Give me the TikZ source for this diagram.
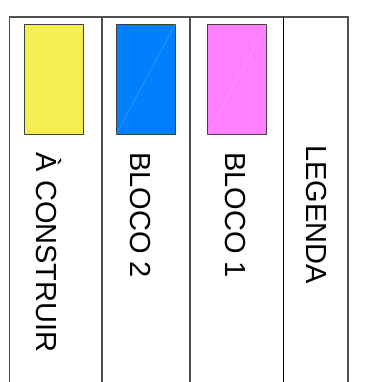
\documentclass[tikz,border=0pt]{standalone}
\usepackage{fontspec}
\setmainfont{Liberation Sans}
\definecolor{amarelo}{HTML}{F5EE50}
\definecolor{azul}{HTML}{0080FF}
\definecolor{rosa}{HTML}{FF80FF}
\definecolor{linha}{HTML}{505050}
\tikzset{
  cor/.style={draw=linha!80!black,line width=1pt,minimum width=59pt,minimum height=110.5pt,inner sep=0pt,anchor=north west},
  rotulo/.style={rotate=-90,anchor=base west,inner sep=0pt,font=\fontsize{29}{31}\selectfont},
}
\begin{document}
\begin{tikzpicture}[x=1pt,y=-1pt]
\useasboundingbox (0,0) rectangle (382,382);
% grelha da legenda
\draw[linha,line width=1.1pt] (9.5,382) -- (9.5,17) -- (348,17) -- (348,382);
\draw[linha,line width=1.1pt] (102,17) -- (102,382);
\draw[linha,line width=1.1pt] (190,17) -- (190,382);
\draw[black,line width=1pt] (283,17) -- (283,382);
% amostras de cor
\node[cor,fill=amarelo] (a) at (24,24){};
\node[cor,fill=azul] (b2) at (115.5,24){};
\node[cor,fill=rosa] (b1) at (207,24){};
\foreach \n in {a,b2,b1}
  \draw[white,opacity=0.35,line width=0.3pt] (\n.south west) -- (\n.north east);
% textos
\node[rotulo] (ta) at (36,152.5){À CONSTRUIR};
\node[rotulo] (tb2) at (130.5,152){BLOCO 2};
\node[rotulo] (tb1) at (225,152){BLOCO 1};
\node[rotulo] (tl) at (306.5,145){LEGENDA};
\end{tikzpicture}
\end{document}
